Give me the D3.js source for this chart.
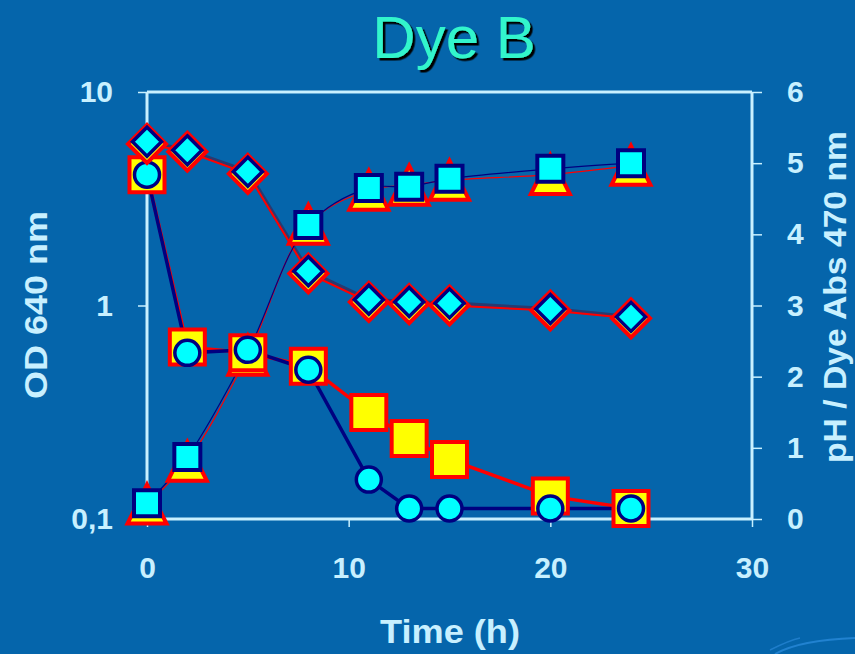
<!DOCTYPE html>
<html>
<head>
<meta charset="utf-8">
<script src="https://cdn.jsdelivr.net/npm/d3@7"></script>
<style>
  body { margin: 0; background: #0565ab; }
  svg text { font-family: Arial, "Liberation Sans", sans-serif; }
</style>
</head>
<body>
<div id="chart"></div>
<script>
// time points (h)
var hours = [0, 2, 5, 8, 11, 13, 15, 20, 24];

// left axis, OD 640 nm (log)
var odSquares = [4.1, 0.64, 0.60, 0.52, 0.315, 0.238, 0.19, 0.128, 0.112];
var odCircles = [4.1, 0.60, 0.62, 0.50, 0.153, 0.112, 0.112, 0.112, 0.112];

// right axis, pH / Dye Abs 470 nm
var phTriangles = [0.21, 0.81, 2.3, 4.14, 4.62, 4.69, 4.76, 4.84, 4.97];
var phSquares = [0.22, 0.87, 2.35, 4.13, 4.65, 4.67, 4.78, 4.92, 5.0];
var dyeYellow = [5.27, 5.16, 4.85, 3.45, 3.05, 3.02, 3.0, 2.93, 2.82];
var dyeCyan = [5.3, 5.18, 4.88, 3.48, 3.08, 3.05, 3.03, 2.95, 2.84];

var xTicks = [0, 10, 20, 30];
var leftTicks = [10, 1, 0.1];
var leftTickLabels = ["10", "1", "0,1"];
var rightTicks = [0, 1, 2, 3, 4, 5, 6];

var W = 855, H = 654;
var axisCol = "#c8f0ff";

var svg = d3.select("#chart").append("svg")
  .attr("width", W)
  .attr("height", H);

var defs = svg.append("defs");
defs.append("filter").attr("id", "shadow")
  .attr("x", "-10%").attr("y", "-10%").attr("width", "130%").attr("height", "130%")
  .append("feDropShadow").attr("dx", 2.5).attr("dy", 2.5).attr("stdDeviation", 0)
  .attr("flood-color", "#000").attr("flood-opacity", 1);

svg.append("rect").attr("width", W).attr("height", H).attr("fill", "#0565ab");

// faint decoration bottom right
svg.append("path").attr("d", "M775,654 Q800,640 855,638").attr("fill", "none")
  .attr("stroke", "#2e8ee0").attr("stroke-width", 2).attr("opacity", 0.7);
svg.append("path").attr("d", "M770,650 Q790,640 800,638").attr("fill", "none")
  .attr("stroke", "#2e8ee0").attr("stroke-width", 1.5).attr("opacity", 0.6);

var x = d3.scaleLinear().domain([0, 30]).range([147, 752]);
var yL = d3.scaleLog().domain([0.1, 10]).range([519, 92]);
var yR = d3.scaleLinear().domain([0, 6]).range([519, 92]);

// title
svg.append("text").attr("x", 454).attr("y", 58).attr("text-anchor", "middle")
  .attr("font-size", 60).attr("fill", "#33f5cc").attr("filter", "url(#shadow)")
  .text("Dye B");

// axes
var gx = svg.append("g").attr("transform", "translate(0,519)")
  .call(d3.axisBottom(x).tickValues(xTicks).tickSize(8).tickPadding(30));
var gl = svg.append("g").attr("transform", "translate(147,0)")
  .call(d3.axisLeft(yL).tickValues(leftTicks).tickSize(9).tickPadding(25)
    .tickFormat(function(d, i) { return leftTickLabels[i]; }));
var gr = svg.append("g").attr("transform", "translate(752,0)")
  .call(d3.axisRight(yR).tickValues(rightTicks).tickSize(10).tickPadding(25)
    .tickFormat(d3.format("d")));

[gx, gl, gr].forEach(function(g) {
  g.select(".domain").attr("stroke", axisCol).attr("stroke-width", 3);
  g.selectAll(".tick line").attr("stroke", axisCol).attr("stroke-width", 1.5);
  g.selectAll(".tick text").attr("fill", axisCol).attr("font-size", 30)
    .attr("font-weight", "bold").attr("font-family", "Arial, 'Liberation Sans', sans-serif");
});
gx.select(".domain").attr("d", "M147,0H752");
gl.select(".domain").attr("d", "M0,519V92");
gr.select(".domain").attr("d", "M0,519V92");

// top frame
svg.append("line").attr("x1", 147).attr("x2", 752).attr("y1", 92).attr("y2", 92)
  .attr("stroke", axisCol).attr("stroke-width", 3);

// axis titles
svg.append("text").attr("transform", "translate(47,305) rotate(-90)")
  .attr("text-anchor", "middle").attr("font-size", 31).attr("font-weight", "bold")
  .attr("textLength", 188).attr("lengthAdjust", "spacingAndGlyphs")
  .attr("fill", axisCol).text("OD 640 nm");
svg.append("text").attr("transform", "translate(846,297) rotate(-90)")
  .attr("text-anchor", "middle").attr("font-size", 31).attr("font-weight", "bold")
  .attr("textLength", 332).attr("lengthAdjust", "spacingAndGlyphs")
  .attr("fill", axisCol).text("pH / Dye Abs 470 nm");
svg.append("text").attr("x", 450).attr("y", 643)
  .attr("text-anchor", "middle").attr("font-size", 33).attr("font-weight", "bold")
  .attr("textLength", 140).attr("lengthAdjust", "spacingAndGlyphs")
  .attr("fill", axisCol).text("Time (h)");

function pts(vals, y) {
  return hours.map(function(h, i) { return [x(h), y(vals[i])]; });
}

function drawLine(vals, y, col, w, curve) {
  svg.append("path")
    .attr("d", d3.line().curve(curve || d3.curveLinear)(pts(vals, y)))
    .attr("fill", "none").attr("stroke", col).attr("stroke-width", w);
}

// lines
drawLine(dyeCyan, yR, "#2a3a70", 4);
drawLine(dyeYellow, yR, "#ff0000", 2);
drawLine(phTriangles, yR, "#ff0000", 1.2, d3.curveCatmullRom);
drawLine(phSquares, yR, "#000080", 1.2, d3.curveCatmullRom);
drawLine(odSquares, yL, "#ff0000", 3.5);
drawLine(odCircles, yL, "#000080", 3.5);

var shapes = {
  square: function(s) { return "M" + (-s / 2) + "," + (-s / 2) + "h" + s + "v" + s + "h" + (-s) + "Z"; },
  diamond: function(s) { return "M0," + (-s / 2) + "L" + (s / 2) + ",0L0," + (s / 2) + "L" + (-s / 2) + ",0Z"; },
  triangle: function(s) { return "M0," + (-s / 2) + "L" + (s / 2) + "," + (s / 2) + "L" + (-s / 2) + "," + (s / 2) + "Z"; },
  circle: function(s) { return d3.symbol().type(d3.symbolCircle).size(Math.PI * s * s / 4)(); }
};

function markers(vals, y, shape, size, fill, stroke, sw) {
  svg.append("g").selectAll("path")
    .data(pts(vals, y))
    .enter()
    .append("path")
    .attr("d", shapes[shape](size))
    .attr("transform", function(p) { return "translate(" + p[0] + "," + p[1] + ")"; })
    .attr("fill", fill).attr("stroke", stroke).attr("stroke-width", sw);
}

// markers (pH series below the OD series)
markers(phTriangles, yR, "triangle", 39, "#ffff00", "#ff0000", 4);
markers(phSquares, yR, "square", 26, "#00ffff", "#000080", 4);
markers(odSquares, yL, "square", 35, "#ffff00", "#ff0000", 4);
markers(odCircles, yL, "circle", 25, "#00ffff", "#000080", 3.5);
markers(dyeYellow, yR, "diamond", 38, "#ffff00", "#ff0000", 4);
markers(dyeCyan, yR, "diamond", 29, "#00ffff", "#000080", 3.5);
</script>
</body>
</html>
